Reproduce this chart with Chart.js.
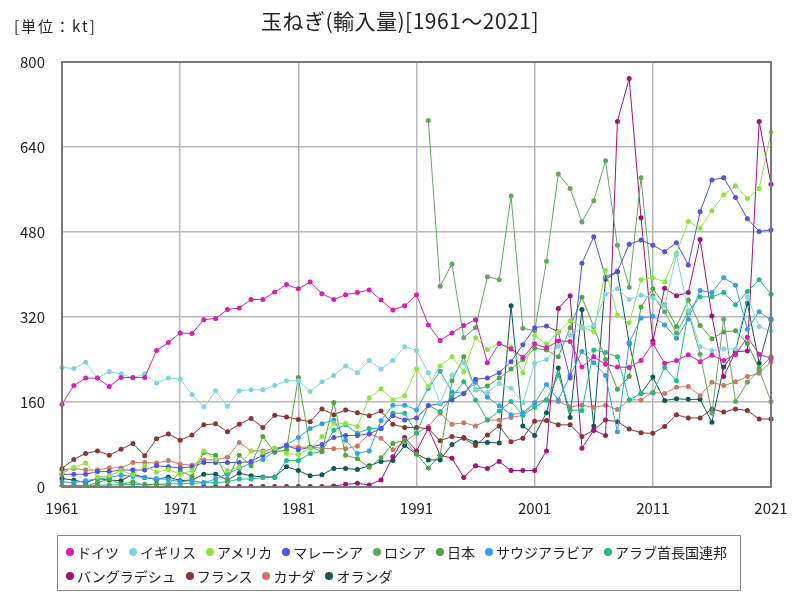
<!DOCTYPE html>
<html>
<head>
<meta charset="utf-8">
<script src="https://cdn.jsdelivr.net/npm/chart.js@4.4.1/dist/chart.umd.min.js"></script>
<style>
body{margin:0;background:#fff;font-family:"Noto Sans CJK JP",sans-serif;}
#wrap{position:relative;width:800px;height:600px;}
#chart{position:absolute;left:0;top:0;}
#title{position:absolute;top:5px;left:0;width:800px;text-align:center;font-size:21px;color:#222;letter-spacing:0.5px;}
#unit{position:absolute;top:15px;left:14px;font-size:15px;color:#222;letter-spacing:2px;}
#legend{position:absolute;left:57px;top:535px;width:684px;height:56px;border:1px solid #888;box-sizing:border-box;padding:3px 0 0 8px;font-size:14px;color:#222;line-height:22px;}
.item{display:inline-flex;align-items:center;margin-right:10px;}
.dot{width:8px;height:8px;border-radius:50%;margin-right:3px;}
</style>
</head>
<body>
<div id="wrap">
  <canvas id="chart" width="800" height="600"></canvas>
  <div id="unit">[単位：kt]</div>
  <div id="title">玉ねぎ(輸入量)[1961～2021]</div>
  <div id="legend"></div>
</div>
<script>
const years = [];
for(let y = 1961; y <= 2021; y++){
    years.push(String(y));
}

const germany = [156,191,205,205,189,206,206,206,257,272, 290,289,315,317,334,337,353,353,367,381,
    373,386,364,353,362,366,371,352,333,341, 362,305,276,290,304,315,234,270,260,244,
    269,262,275,274,226,245,231,226,225,238, 270,233,238,249,236,248,238,249,282,250,242];
const uk = [225,223,235,205,217,213,205,213,196,205, 203,174,151,181,152,181,183,183,191,200,
    200,180,198,210,228,215,238,222,238,264, 257,215,158,211,234,183,178,195,186,158,
    233,240,265,285,300,304,363,373,353,361, 356,341,437,332,264,257,260,260,358,302,294];
const usa = [26,37,45,19,21,31,23,40,28,33, 24,31,68,52,31,38,68,65,73,63,
    61,73,95,120,120,114,168,185,164,172, 222,189,228,245,217,281,259,270,263,215,
    285,269,292,313,302,292,408,324,309,390, 394,386,440,500,487,520,550,567,543,562,668];
const malaysia = [24,24,24,29,29,32,32,32,40,38, 36,38,46,46,46,46,48,60,70,78,
    70,75,80,93,97,97,100,110,134,126, 130,153,157,164,176,203,205,215,236,268,
    300,303,292,205,421,471,395,406,457,465, 455,443,460,418,518,578,582,545,505,481,484];
const russia = [null,null,null,null,null,null,null,null,null,null, null,null,null,null,null,null,null,null,null,null,
    null,null,null,null,null,null,null,null,null,null, null,690,378,420,281,300,396,390,548,299,
    294,425,589,562,499,539,614,455,376,582, 360,330,290,330,250,139,316,161,197,220,161];
const japan = [2,3,2,8,15,5,10,3,5,3, 30,20,65,60,15,60,40,95,65,70,
    206,75,67,159,60,53,37,55,82,88, 62,36,60,200,245,183,190,205,222,240,
    261,258,245,300,357,302,240,184,208,339, 373,343,302,352,304,279,292,294,270,223,245];
const saudi = [10,8,12,15,18,22,20,18,16,14, 10,12,8,15,25,35,45,52,67,79,
    93,110,119,126,88,63,68,125,154,154, 145,186,218,179,176,197,169,153,136,140,
    158,193,164,210,255,234,210,104,272,318, 322,305,280,316,370,366,394,380,297,330,314];
const uae = [2,2,3,3,4,4,5,5,5,6, 6,7,8,8,10,15,15,18,18,50,
    50,63,67,107,117,101,110,110,139,139, 101,154,142,170,198,164,126,143,161,135,
    150,164,210,145,144,258,253,245,164,176, 177,225,200,330,358,358,366,343,368,390,363];
const bangladesh = [null,null,null,null,null,null,null,null,null,null, null,null,1,1,1,1,1,1,1,1,
    1,1,1,2,5,7,4,13,57,93, 68,110,60,54,18,40,35,48,31,31,
    31,68,336,360,73,107,97,688,769,507, 275,374,360,366,466,322,208,255,256,688,570];
const france = [35,52,63,68,60,71,82,59,91,100, 88,98,117,119,104,118,129,112,135,132,
    127,123,147,136,145,140,134,143,118,112, 112,110,87,95,92,78,98,115,85,92,
    124,125,117,117,95,107,126,123,109,102, 101,114,136,130,130,147,141,147,144,128,128];
const canada = [32,35,32,32,36,36,46,46,45,50, 43,41,51,51,56,84,68,68,73,76,
    75,75,73,72,72,77,101,92,70,85, 101,114,139,118,121,115,126,126,131,135,
    159,164,161,151,154,150,154,146,164,164, 178,176,188,189,172,197,191,198,208,214,236];
const netherlands = [16,13,8,16,13,12,24,18,14,19, 12,13,24,24,13,26,21,19,19,38,
    31,21,23,35,35,33,40,48,50,78, 62,51,51,80,93,84,84,83,341,115,
    97,140,224,131,334,115,391,405,270,176, 207,163,166,165,165,122,226,257,346,233,316];

const seriesNames = ['ドイツ','イギリス','アメリカ','マレーシア','ロシア','日本','サウジアラビア','アラブ首長国連邦','バングラデシュ','フランス','カナダ','オランダ'];
const seriesData = [germany, uk, usa, malaysia, russia, japan, saudi, uae, bangladesh, france, canada, netherlands];
const seriesColors = ['#d81eb8','#80d6de','#8ce640','#5252e0','#62a862','#4fa640','#34a0e6','#1ebe86','#a0127e','#8c3434','#c87a62','#125858'];

const fontFamily = '"Noto Sans CJK JP", sans-serif';

// legend as html below the plot
const legendBox = document.getElementById('legend');
seriesNames.forEach(function(name, i){
    const item = document.createElement('span');
    item.className = 'item';
    item.innerHTML = '<span class="dot" style="background:' + seriesColors[i] + '"></span>' + name;
    legendBox.appendChild(item);
});

const framePlugin = {
    id: 'frame',
    afterDraw(chart){
        const a = chart.chartArea;
        const ctx = chart.ctx;
        ctx.save();
        ctx.strokeStyle = '#7a7a7a';
        ctx.lineWidth = 2;
        ctx.strokeRect(a.left, a.top, a.right - a.left, a.bottom - a.top);
        ctx.restore();
    }
};

new Chart(document.getElementById('chart'), {
    type: 'line',
    data: {
        labels: years,
        datasets: seriesNames.map(function(name, i){
            return {
                label: name,
                data: seriesData[i],
                borderColor: seriesColors[i],
                backgroundColor: seriesColors[i],
                borderWidth: 1,
                pointRadius: 2.5,
                pointBorderWidth: 0,
                tension: 0,
                spanGaps: false
            };
        })
    },
    options: {
        responsive: false,
        animation: false,
        layout: {padding: {left: 0, right: 29, top: 62, bottom: 0}},
        plugins: {
            legend: {display: false},
            tooltip: {enabled: false}
        },
        scales: {
            x: {
                offset: false,
                border: {display: false},
                grid: {
                    color: ctx => ctx.index % 10 === 0 ? '#b8b8b8' : 'rgba(0,0,0,0)',
                    lineWidth: 1.5,
                    drawTicks: false
                },
                ticks: {
                    autoSkip: false,
                    maxRotation: 0,
                    padding: 12,
                    color: '#222',
                    font: {size: 15, family: fontFamily},
                    callback: (v, i) => i % 10 === 0 ? years[i] : ''
                },
                afterFit: s => { s.height = 113; }
            },
            y: {
                min: 0,
                max: 800,
                border: {display: false},
                grid: {color: '#b8b8b8', lineWidth: 1.5, drawTicks: false},
                ticks: {
                    stepSize: 160,
                    padding: 17,
                    color: '#222',
                    font: {size: 15, family: fontFamily}
                },
                afterFit: s => { s.width = 62; }
            }
        }
    },
    plugins: [framePlugin]
});
</script>
</body>
</html>
